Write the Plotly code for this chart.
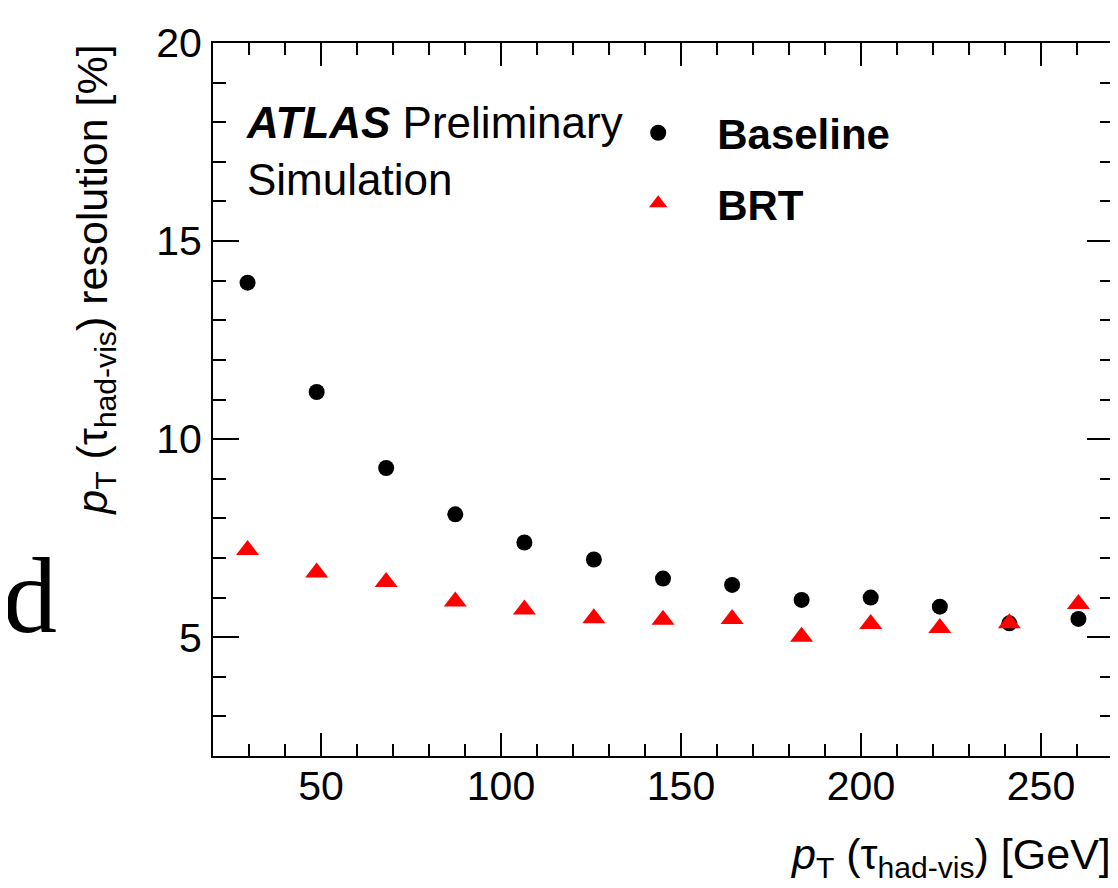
import plotly.graph_objects as go

# Data
pt_centers = [29.6, 48.8, 68.1, 87.3, 106.5, 125.8, 145.0, 164.2, 183.5, 202.7, 221.9, 241.2, 260.4]
baseline = [13.95, 11.19, 9.27, 8.10, 7.39, 6.96, 6.48, 6.32, 5.94, 6.00, 5.77, 5.35, 5.46]
brt = [7.20, 6.63, 6.39, 5.90, 5.70, 5.48, 5.44, 5.46, 5.01, 5.33, 5.23, 5.35, 5.84]

FONT = "Liberation Sans, Arial, Helvetica, sans-serif"

fig = go.Figure()
fig.add_trace(go.Scatter(
    x=pt_centers, y=baseline, mode="markers", name="<b>Baseline</b>",
    legendgroup="a",
    marker=dict(symbol="circle", size=16, color="black"),
))
fig.add_trace(go.Scatter(
    x=pt_centers, y=brt, mode="markers", name="<b>BRT</b>",
    legendgroup="b",
    marker=dict(symbol="triangle-up", size=20, color="#ff0000"),
))

axis_common = dict(
    showgrid=False, zeroline=False, showline=True, linecolor="black", linewidth=2,
    mirror="allticks", ticks="inside", tickwidth=2, tickcolor="black",
    tickfont=dict(family=FONT, size=41, color="black"),
)

fig.update_xaxes(
    range=[20, 270], tickvals=[50, 100, 150, 200, 250], ticklen=23,
    minor=dict(dtick=10, tick0=0, ticks="inside", ticklen=12, tickwidth=2, tickcolor="black"),
    ticklabelstandoff=-7,
    **axis_common,
)
fig.update_yaxes(
    range=[2, 20], tickvals=[5, 10, 15, 20], ticklen=26,
    minor=dict(dtick=1, tick0=0, ticks="inside", ticklen=13, tickwidth=2, tickcolor="black"),
    ticklabelstandoff=1,
    **axis_common,
)

fig.add_annotation(
    xref="paper", yref="paper", x=1.0, y=-0.182, xanchor="right", yanchor="bottom",
    text="<i>p</i><sub>T</sub> (τ<sub>had-vis</sub>) [GeV]", showarrow=False,
    font=dict(family=FONT, size=43, color="black"),
)
fig.add_annotation(
    xref="paper", yref="paper", x=-0.132, y=1.0, xanchor="center", yanchor="top",
    text="<i>p</i><sub>T</sub> (τ<sub>had-vis</sub>) resolution [%]", showarrow=False,
    textangle=-90, font=dict(family=FONT, size=43, color="black"),
)
fig.add_annotation(
    xref="paper", yref="paper", x=0.0344, y=0.926, xanchor="left", yanchor="top",
    text="<b><i>ATLAS</i></b> Preliminary<br>Simulation", showarrow=False, align="left",
    font=dict(family=FONT, size=44, color="black"),
)
fig.add_annotation(
    xref="paper", yref="paper", x=-0.2361, y=0.2258, xanchor="left", yanchor="middle",
    text="d", showarrow=False,
    font=dict(family="Liberation Serif, Times New Roman, serif", size=108, color="black"),
)

fig.update_layout(
    width=1110, height=880,
    margin=dict(l=205, r=3, t=35, b=132),
    paper_bgcolor="white", plot_bgcolor="white",
    showlegend=True,
    legend=dict(
        x=0.4291, y=0.9215, xanchor="left", yanchor="top",
        bgcolor="rgba(0,0,0,0)", borderwidth=0,
        font=dict(family=FONT, size=42, color="black"),
        itemwidth=108, tracegroupgap=13, traceorder="grouped",
    ),
)

fig.write_html("out.html")
